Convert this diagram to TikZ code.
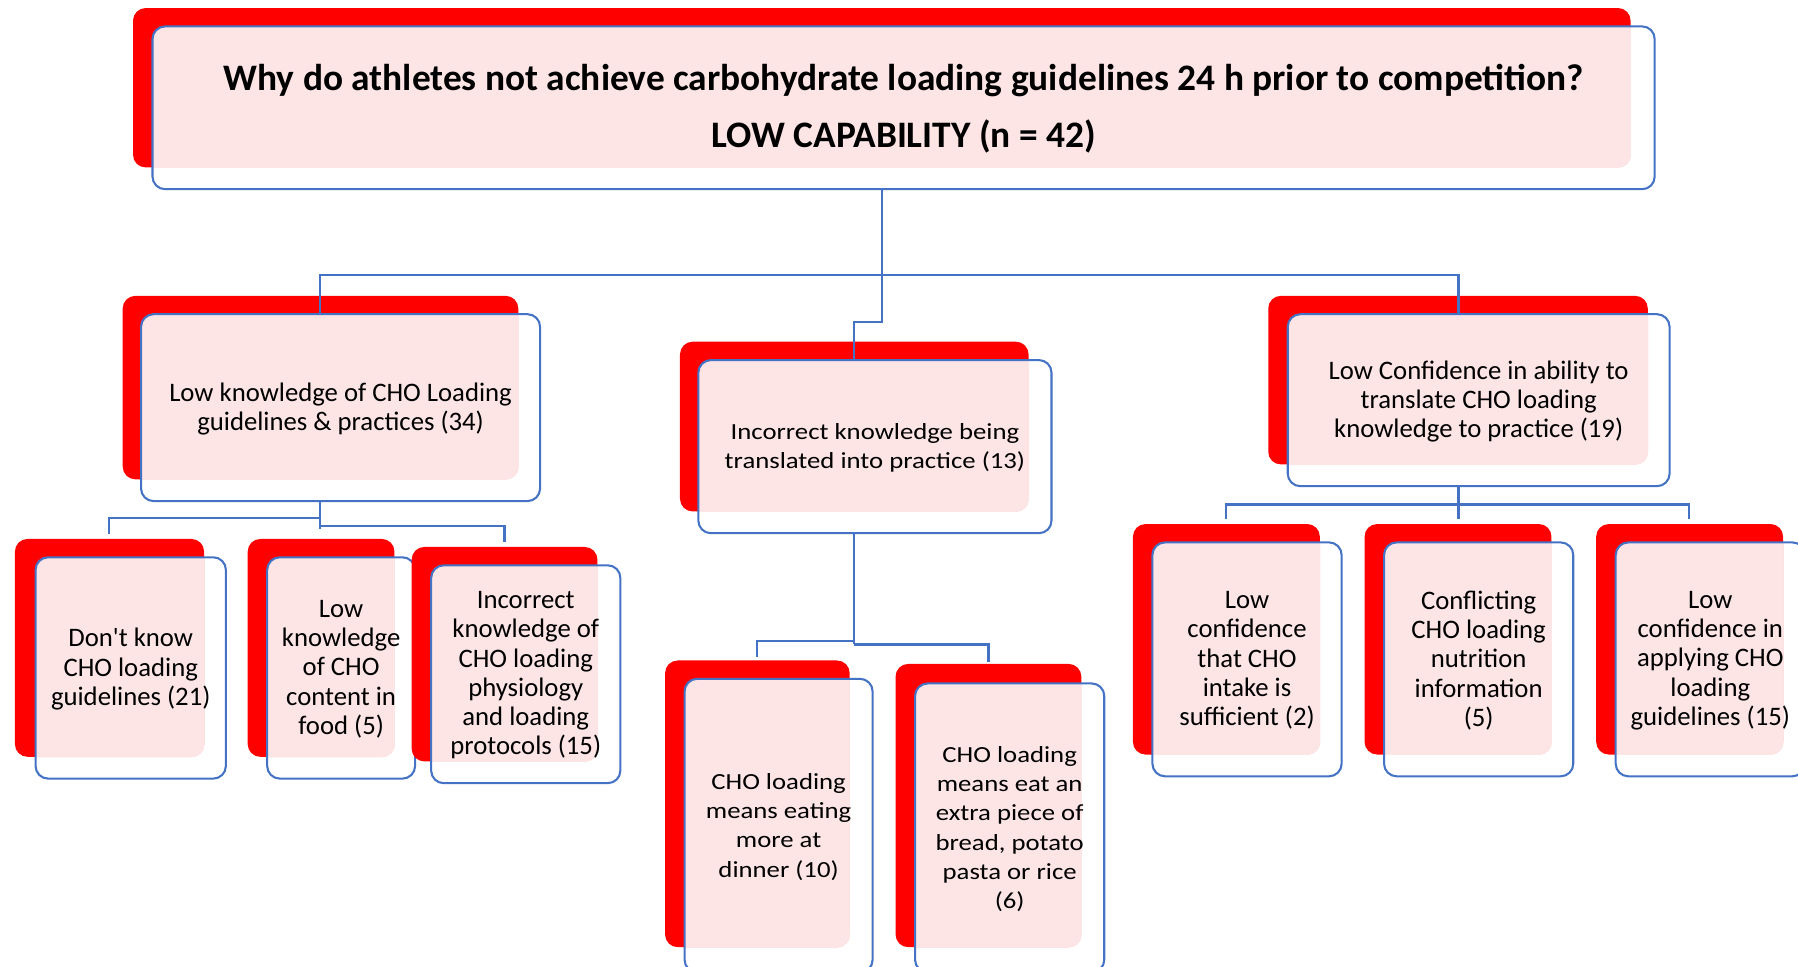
\documentclass[tikz,border=0pt]{standalone}
\usepackage{fontspec}
\setmainfont{Carlito}[Ligatures=TeXOff]
\newfontfamily\midfont{Carlito}[FakeStretch=1.16,Ligatures=TeXOff]
\usetikzlibrary{fit}
\definecolor{boxred}{RGB}{255,0,0}
\definecolor{boxpink}{RGB}{253,229,230}
\definecolor{linkblue}{RGB}{68,114,196}

% A red card behind a blue-outlined card; where they overlap the card is pink.
% #1 name, #2/#3 red corners, #4/#5 blue corners, #6 text style, #7 text
\newcommand\stackbox[7]{%
  \fill[boxred,rounded corners=11pt] #2 rectangle #3;
  \begin{scope}
    \clip[rounded corners=11pt] #4 rectangle #5;
    \filldraw[fill=boxpink,draw=boxpink,line width=0.8pt,rounded corners=11pt] #2 rectangle #3;
  \end{scope}
  \node[outline,fit={#4 #5}] (#1) {};
  \node[#6] (#1t) at (#1.center) {#7};
}

\begin{document}
\begin{tikzpicture}[x=1pt,y=-1pt,
  outline/.style={draw=linkblue,line width=1.8pt,rounded corners=11pt,inner sep=0pt},
  cardtext/.style={inner sep=0pt,align=center,yshift=-1pt},
  titletext/.style={cardtext,font=\fontsize{32.6}{50}\selectfont\bfseries},
  bodytext/.style={cardtext,font=\fontsize{23.3}{25.5}\selectfont},
  midtext/.style={cardtext,font=\midfont\fontsize{20.1}{25.5}\selectfont},
  link/.style={draw=linkblue,line width=2pt}]
\useasboundingbox (0,0) rectangle (1568,843);

% question
\stackbox{title}{(116,7)}{(1422,146)}{(133,23)}{(1443,165)}{titletext}
  {Why do athletes not achieve carbohydrate loading guidelines 24 h prior to competition?\\LOW CAPABILITY (n = 42)}

% first level
\stackbox{L1}{(107,258)}{(452,418)}{(123,274)}{(471,437)}{bodytext}
  {Low knowledge of CHO Loading\\guidelines \& practices (34)}
\stackbox{M1}{(593,298)}{(897,446)}{(609,314)}{(917,465)}{midtext}
  {Incorrect knowledge being\\translated into practice (13)}
\stackbox{R1}{(1106,258)}{(1437,405)}{(1123,274)}{(1456,424)}{bodytext}
  {Low Confidence in ability to\\translate CHO loading\\knowledge to practice (19)}

% second level, left branch
\stackbox{C1}{(13,470)}{(178,660)}{(31,486)}{(197,679)}{bodytext}
  {Don't know\\CHO loading\\guidelines (21)}
\stackbox{C2}{(216,470)}{(344,660)}{(233,486)}{(362,679)}{bodytext}
  {Low\\knowledge\\of CHO\\content in\\food (5)}
\stackbox{C3}{(359,477)}{(521,664)}{(376,493)}{(541,683)}{bodytext}
  {Incorrect\\knowledge of\\CHO loading\\physiology\\and loading\\protocols (15)}

% second level, middle branch
\stackbox{MC1}{(580,576)}{(741,826)}{(597,592)}{(761,848)}{midtext}
  {CHO loading\\means eating\\more at\\dinner (10)}
\stackbox{MC2}{(781,579)}{(943,826)}{(798,596)}{(963,848)}{midtext}
  {CHO loading\\means eat an\\extra piece of\\bread, potato\\pasta or rice\\(6)}

% second level, right branch
\stackbox{RC1}{(988,457)}{(1151,658)}{(1005,473)}{(1170,677)}{bodytext}
  {Low\\confidence\\that CHO\\intake is\\sufficient (2)}
\stackbox{RC2}{(1190,457)}{(1353,658)}{(1207,473)}{(1372,677)}{bodytext}
  {Conflicting\\CHO loading\\nutrition\\information\\(5)}
\stackbox{RC3}{(1392,457)}{(1555,658)}{(1409,473)}{(1574,677)}{bodytext}
  {Low\\confidence in\\applying CHO\\loading\\guidelines (15)}

% connectors from the question
\coordinate (hubT) at (769,240);
\coordinate (busL) at (279,240);
\coordinate (busR) at (1272,240);
\coordinate (kneeM) at (745,281);
\draw[link] (title.south -| hubT) -- (hubT);
\draw[link] (L1.north -| busL) -- (busL) -- (busR) -- (R1.north -| busR);
\draw[link] (hubT) |- (kneeM) -- (M1.north -| kneeM);

% connectors, left branch
\coordinate (stemL) at (279,452);
\coordinate (stemL2) at (279,459);
\coordinate (dropC1) at (95,466);
\coordinate (dropC2) at (279,461);
\coordinate (dropC3) at (440,473);
\draw[link] (L1.south -| stemL) -- (dropC2);
\draw[link] (stemL) -| (dropC1);
\draw[link] (stemL2) -| (dropC3);

% connectors, middle branch
\coordinate (stemM) at (745,559);
\coordinate (stemM2) at (745,562);
\coordinate (dropMC1) at (660,573);
\coordinate (dropMC2) at (862,577);
\draw[link] (M1.south -| stemM) -- (stemM2);
\draw[link] (stemM) -| (dropMC1);
\draw[link] (stemM2) -| (dropMC2);

% connectors, right branch
\coordinate (stemR) at (1272,440);
\coordinate (dropRC1) at (1069,453);
\coordinate (dropRC2) at (1272,453);
\coordinate (dropRC3) at (1473,453);
\draw[link] (R1.south -| stemR) -- (dropRC2);
\draw[link] (dropRC1) |- (stemR) -| (dropRC3);
\end{tikzpicture}
\end{document}
